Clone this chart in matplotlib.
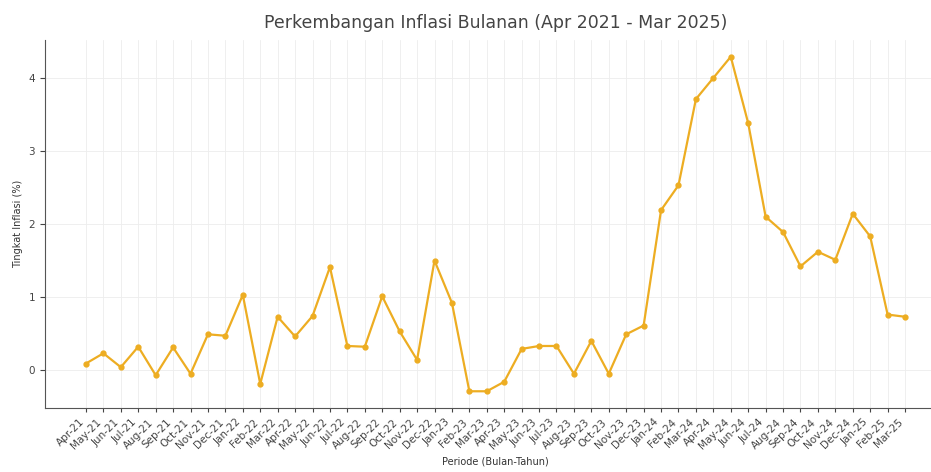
import matplotlib.pyplot as plt

# monthly inflation, Apr 2021 - Mar 2025
months = ["Apr", "May", "Jun", "Jul", "Aug", "Sep", "Oct", "Nov", "Dec",
          "Jan", "Feb", "Mar", "Apr", "May", "Jun", "Jul", "Aug", "Sep", "Oct", "Nov", "Dec",
          "Jan", "Feb", "Mar", "Apr", "May", "Jun", "Jul", "Aug", "Sep", "Oct", "Nov", "Dec",
          "Jan", "Feb", "Mar", "Apr", "May", "Jun", "Jul", "Aug", "Sep", "Oct", "Nov", "Dec",
          "Jan", "Feb", "Mar"]
years = ["21"] * 9 + ["22"] * 12 + ["23"] * 12 + ["24"] * 12 + ["25"] * 3
inflasi = [0.09, 0.23, 0.04, 0.32, -0.07, 0.31, -0.05, 0.49, 0.47,
           1.03, -0.19, 0.73, 0.46, 0.74, 1.41, 0.33, 0.32, 1.01, 0.53, 0.14, 1.50,
           0.92, -0.29, -0.29, -0.16, 0.29, 0.33, 0.33, -0.05, 0.40, -0.05, 0.49, 0.61,
           2.19, 2.53, 3.71, 4.00, 4.29, 3.38, 2.10, 1.89, 1.42, 1.62, 1.51, 2.14,
           1.83, 0.76, 0.73]
labels = [f"{m}-{y}" for m, y in zip(months, years)]

fig = plt.figure(figsize=(9.31, 4.72), dpi=100)
ax = fig.add_axes([45 / 931, 1 - 408 / 472, 901 / 931, 368 / 472])

x = list(range(len(inflasi)))
ax.plot(x, inflasi, color="#EDAD22", linewidth=1.6, marker="o", markersize=3.5)

ax.set_xticks(x)
ax.set_xticklabels(labels, rotation=45, ha="right", fontsize=7.5, color="#444444")
ax.tick_params(axis="y", labelsize=7.5, colors="#444444")
ax.tick_params(axis="x", colors="#444444", length=3)
ax.set_yticks([0, 1, 2, 3, 4])

ax.set_title("Perkembangan Inflasi Bulanan (Apr 2021 - Mar 2025)", fontsize=12.5,
             color="#444444", pad=9)
ax.set_xlabel("Periode (Bulan-Tahun)", fontsize=7, color="#333333", labelpad=4)
ax.set_ylabel("Tingkat Inflasi (%)", fontsize=7, color="#333333")

ax.grid(True, color="#ededed", linewidth=0.6)
ax.set_axisbelow(True)
for s in ["top", "right"]:
    ax.spines[s].set_visible(False)
for s in ["left", "bottom"]:
    ax.spines[s].set_color("#555555")

fig.savefig("out.png", dpi=100)
